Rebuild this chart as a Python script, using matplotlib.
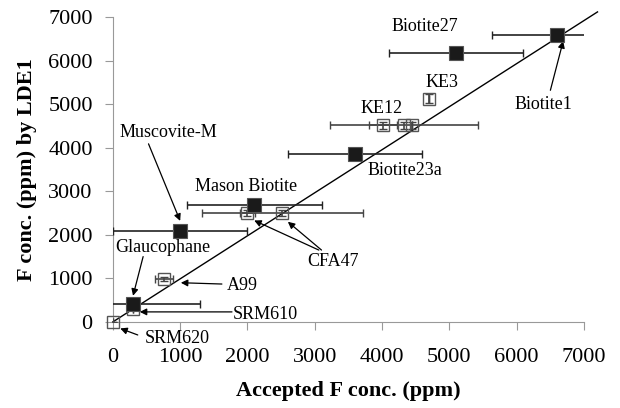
import matplotlib
matplotlib.use("Agg")
import matplotlib.pyplot as plt

plt.rcParams['font.family'] = ['Liberation Serif', 'DejaVu Serif']

# filled squares (micas etc.)
solid_names = ["Biotite1", "Biotite27", "Biotite23a", "Mason Biotite", "Muscovite-M", "Glaucophane"]
solid_x = [6600, 5100, 3600, 2100, 1000, 300]
solid_y = [6600, 6170, 3860, 2680, 2080, 410]
solid_xerr = [970, 1000, 1000, 1000, 1000, 1000]

# open squares (glasses / standards)
open_names = ["KE3", "KE12", "KE12", "KE12", "CFA47", "CFA47", "A99", "SRM610", "SRM620"]
open_x = [4690, 4010, 4330, 4440, 2000, 2520, 760, 300, 0]
open_y = [5130, 4520, 4520, 4520, 2500, 2500, 990, 290, 0]
open_xerr = [0, 210, 1100, 0, 110, 1200, 130, 0, 0]
open_yerr = [110, 80, 80, 80, 60, 60, 40, 0, 0]

# 1:1 line end
line_x = [0, 7200]
line_y = [0, 7120]

fig = plt.figure(figsize=(6.2, 4.08), dpi=100)
ax = fig.add_axes([0.182, 0.211, 0.76, 0.747])

ax.plot(line_x, line_y, color='black', lw=1.0, clip_on=False, zorder=2)

ax.errorbar(solid_x, solid_y, xerr=solid_xerr, fmt='none', ecolor='#222222',
            elinewidth=1.2, capsize=3, capthick=1.0, zorder=3)
ax.errorbar(open_x, open_y, xerr=open_xerr, yerr=open_yerr, fmt='none', ecolor='#444444',
            elinewidth=1.2, capsize=3, capthick=1.0, zorder=3)
ax.plot(open_x, open_y, 's', ms=8.5, mfc='none', mec='#555555', mew=1.0,
        clip_on=False, zorder=4)
ax.plot(solid_x, solid_y, 's', ms=9.5, mfc='#1a1a1a', mec='#555555', mew=0.8,
        clip_on=False, zorder=5)

ax.set_xlim(0, 7000)
ax.set_ylim(0, 7000)
ax.set_xticks(range(0, 7001, 1000))
ax.set_yticks(range(0, 7001, 1000))
for s in ['top', 'right']:
    ax.spines[s].set_visible(False)
for s in ['left', 'bottom']:
    ax.spines[s].set_color('#999999')
ax.tick_params(direction='out', length=6, color='#999999', labelsize=16)
ax.tick_params(axis='x', pad=13)
ax.tick_params(axis='y', pad=8.5)

ax.set_xlabel("Accepted F conc. (ppm)", fontsize=16, fontweight='bold', labelpad=10)
ax.set_ylabel("F conc. (ppm) by LDE1", fontsize=16, fontweight='bold', labelpad=8)

arrow = dict(arrowstyle='-|>', color='black', lw=0.9, mutation_scale=10, shrinkA=0, shrinkB=0)


def lab(text, tx, ty):
    ax.text(tx, ty, text, ha='center', va='center', fontsize=13, zorder=6)


def arr(x0, y0, x1, y1):
    ax.annotate('', xy=(x1, y1), xytext=(x0, y0), arrowprops=arrow, annotation_clip=False)


lab("Biotite27", 4640, 6780)
lab("Biotite1", 6400, 5000)
arr(6500, 5320, 6690, 6450)
lab("KE3", 4890, 5500)
lab("KE12", 3990, 4900)
lab("Biotite23a", 4340, 3470)
lab("Muscovite-M", 820, 4360)
arr(530, 4090, 1000, 2320)
lab("Mason Biotite", 1980, 3100)
lab("CFA47", 3270, 1380)
arr(3060, 1650, 2100, 2330)
arr(3100, 1650, 2600, 2300)
lab("Glaucophane", 740, 1700)
arr(450, 1500, 300, 600)
lab("A99", 1920, 830)
arr(1620, 870, 1010, 900)
lab("SRM610", 2270, 180)
arr(1770, 230, 400, 230)
lab("SRM620", 960, -370)
arr(370, -300, 110, -150)

fig.savefig("out.png", dpi=100)
